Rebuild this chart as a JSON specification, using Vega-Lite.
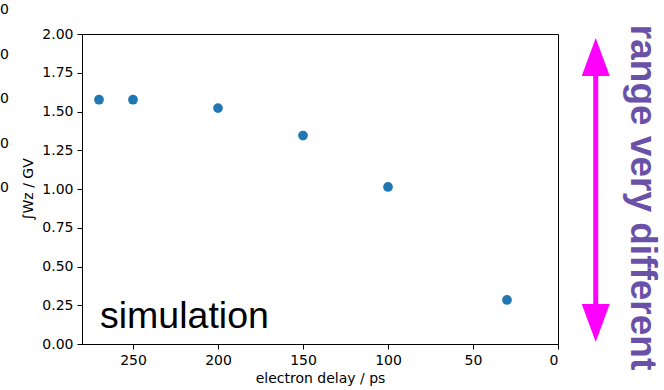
{
  "$schema": "https://vega.github.io/schema/vega-lite/v6.json",
  "width": 476,
  "height": 310,
  "autosize": "none",
  "padding": {"left": 82, "top": 34, "right": 106, "bottom": 46},
  "background": "white",
  "config": {
    "view": {"stroke": "black", "strokeWidth": 1},
    "axis": {
      "domainColor": "black", "tickColor": "black", "labelColor": "black", "titleColor": "black",
      "labelFont": "DejaVu Sans", "labelFontSize": 14, "titleFont": "DejaVu Sans", "titleFontSize": 14,
      "titleFontWeight": "normal", "tickSize": 5, "grid": false, "labelPadding": 4
    }
  },
  "encoding": {
    "x": {"field": "x", "type": "quantitative",
      "scale": {"domain": [0, 280], "reverse": true, "nice": false, "zero": false},
      "axis": {"values": [0, 50, 100, 150, 200, 250], "title": "electron delay / ps", "titlePadding": 4}},
    "y": {"field": "y", "type": "quantitative",
      "scale": {"domain": [0, 2], "nice": false, "zero": false},
      "axis": {"values": [0, 0.25, 0.5, 0.75, 1, 1.25, 1.5, 1.75, 2], "format": ".2f", "title": "∫Wz / GV", "titlePadding": 6}}
  },
  "layer": [
    {
      "data": {"values": [
        {"x": 270, "y": 1.576},
        {"x": 250, "y": 1.576},
        {"x": 200, "y": 1.522},
        {"x": 150, "y": 1.345},
        {"x": 100, "y": 1.013},
        {"x": 30, "y": 0.284}
      ]},
      "mark": {"type": "circle", "size": 95, "color": "#1f77b4", "opacity": 1}
    },
    {
      "data": {"values": [{"x": 269.4, "y": 0.105, "label": "simulation"}]},
      "mark": {"type": "text", "align": "left", "baseline": "alphabetic", "font": "Liberation Sans", "fontSize": 37.5, "color": "black"},
      "encoding": {"text": {"field": "label"}}
    },
    {
      "data": {"values": [{"x": -22.2, "y": 0.135, "y2": 1.852}]},
      "mark": {"type": "rule", "color": "#ff00ff", "strokeWidth": 5},
      "encoding": {"y2": {"field": "y2"}}
    },
    {
      "data": {"values": [{"x": -22.2, "y": 1.852}]},
      "mark": {"type": "point", "shape": "M-0.737,1L0.737,1L0,-1Z", "size": 1444, "filled": true, "color": "#ff00ff", "opacity": 1}
    },
    {
      "data": {"values": [{"x": -22.2, "y": 0.135}]},
      "mark": {"type": "point", "shape": "M-0.737,-1L0.737,-1L0,1Z", "size": 1444, "filled": true, "color": "#ff00ff", "opacity": 1}
    },
    {
      "data": {"values": [{"x": -49.2, "y": 0.945, "label": "range very different"}]},
      "mark": {"type": "text", "angle": 90, "align": "center", "baseline": "middle", "font": "Liberation Sans", "fontWeight": "bold", "fontSize": 37, "color": "#6a51a8"},
      "encoding": {"text": {"field": "label"}}
    },
    {
      "data": {"values": [
        {"x": 323, "y": 2.155, "label": "0"},
        {"x": 323, "y": 1.865, "label": "0"},
        {"x": 323, "y": 1.58, "label": "0"},
        {"x": 323, "y": 1.29, "label": "0"},
        {"x": 323, "y": 1.006, "label": "0"}
      ]},
      "mark": {"type": "text", "align": "right", "baseline": "middle", "font": "DejaVu Sans", "fontSize": 14, "color": "black"},
      "encoding": {"text": {"field": "label"}}
    }
  ]
}
